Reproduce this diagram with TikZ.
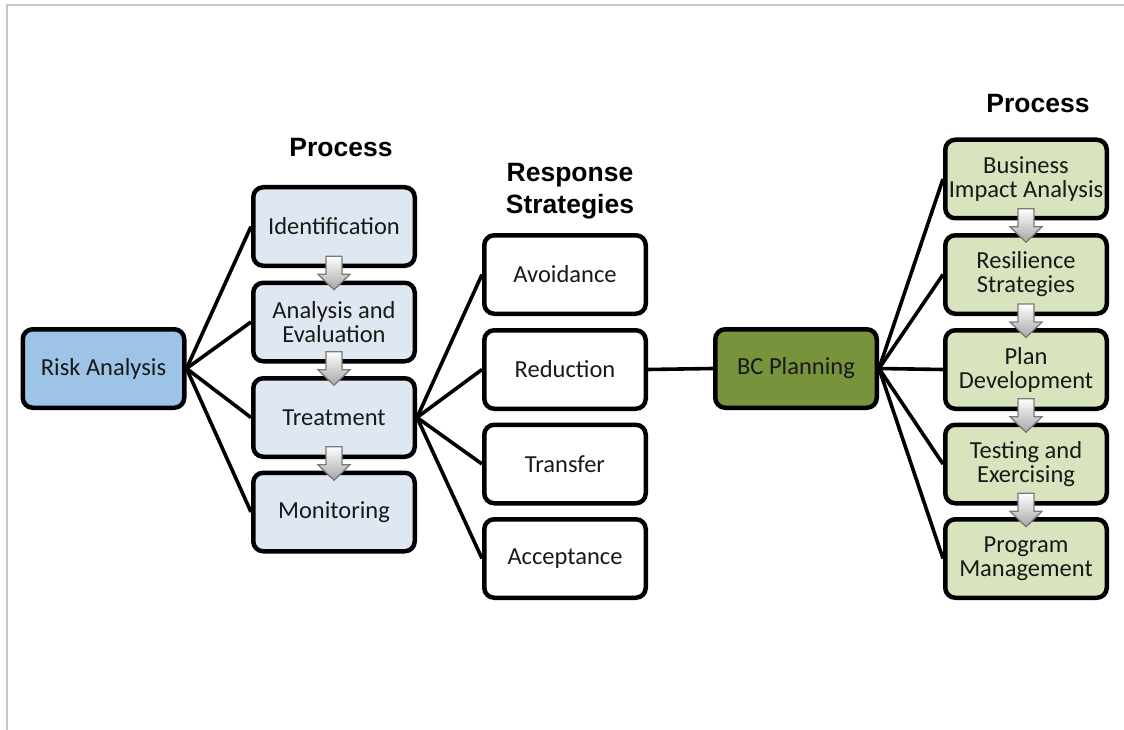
\documentclass[tikz,border=0pt]{standalone}
\usepackage{fontspec}
\setmainfont{Carlito}
\newfontfamily\headfont{Liberation Sans}
\usetikzlibrary{calc,backgrounds}

\definecolor{framegray}{HTML}{C8C8C8}
\definecolor{riskblue}{HTML}{9DC3E6}
\definecolor{procblue}{HTML}{DFE7F2}
\definecolor{bcgreen}{HTML}{77933C}
\definecolor{procgreen}{HTML}{D7E4BD}
\definecolor{arrowedge}{HTML}{7A7A7A}

\tikzset{
  box/.style={draw=black, line width=4.5pt, rounded corners=10pt,
    minimum width=161.5pt, minimum height=78.5pt, inner sep=2pt, align=center,
    font=\fontsize{24.5}{24}\selectfont, text=black!90},
  riskbox/.style={box, fill=riskblue},
  procbox/.style={box, fill=procblue},
  respbox/.style={box, fill=white},
  bcbox/.style={box, fill=bcgreen},
  bcprocbox/.style={box, fill=procgreen},
  header/.style={align=center, font=\headfont\bfseries\fontsize{26.5}{32}\selectfont},
  link/.style={line width=3.6pt, black},
  % shaded block arrow pointing down, drawn around its centre
  blockarrow/.pic={
    \path[draw=arrowedge, line width=1.3pt, top color=white, bottom color=black!35,
          line join=miter]
      (-8,-17) -- (8,-17) -- (8,1) -- (16,1) -- (0,16.5) -- (-16,1) -- (-8,1) -- cycle;
  }
}

\begin{document}
\begin{tikzpicture}[x=1pt, y=-1pt]
\useasboundingbox (0,0) rectangle (1124,730);

% page frame
\draw[framegray, line width=2pt] (6.5,730) -- (6.5,5) -- (1124,5);

% headers
\node[header] (hproc1) at (341,148) {Process};
\node[header] (hresp) at (570,191) {Response\\Strategies};
\node[header] (hproc2) at (1038,104) {Process};

% risk analysis branch
\node[riskbox] (risk) at (103.5,368.5) {Risk Analysis};

\node[procbox] (ident) at (334,226.5) {Identification};
\node[procbox] (anal)  at (334,322)   {Analysis and\\Evaluation};
\node[procbox] (treat) at (334,417.5) {Treatment};
\node[procbox] (monit) at (334,512)   {Monitoring};

% response strategies
\node[respbox] (avoid)  at (565,274.5) {Avoidance};
\node[respbox] (reduc)  at (565,369.5) {Reduction};
\node[respbox] (trans)  at (565,464)   {Transfer};
\node[respbox] (accept) at (565,558.5) {Acceptance};

% business continuity branch
\node[bcbox] (bc) at (796,368.5) {BC Planning};

\node[bcprocbox] (bia)   at (1026,179)   {Business\\Impact Analysis};
\node[bcprocbox] (resil) at (1026,274.5) {Resilience\\Strategies};
\node[bcprocbox] (plan)  at (1026,369.5) {Plan\\Development};
\node[bcprocbox] (test)  at (1026,464)   {Testing and\\Exercising};
\node[bcprocbox] (prog)  at (1026,558.5) {Program\\Management};

% connectors
\begin{scope}[on background layer]
  \foreach \t in {ident,anal,treat,monit}
    \draw[link] (risk.east) -- (\t.west);
  \foreach \t in {avoid,reduc,trans,accept}
    \draw[link] (treat.east) -- (\t.west);
  \draw[link] (reduc.east) -- (bc.west);
  \foreach \t in {bia,resil,plan,test,prog}
    \draw[link] (bc.east) -- (\t.west);
\end{scope}

% step arrows between process stages
\foreach \a/\b in {ident/anal, anal/treat, treat/monit,
                   bia/resil, resil/plan, plan/test, test/prog}
  \pic (\a-\b) at ($(\a.south)!0.5!(\b.north)+(0,-1)$) {blockarrow};

\end{tikzpicture}
\end{document}
